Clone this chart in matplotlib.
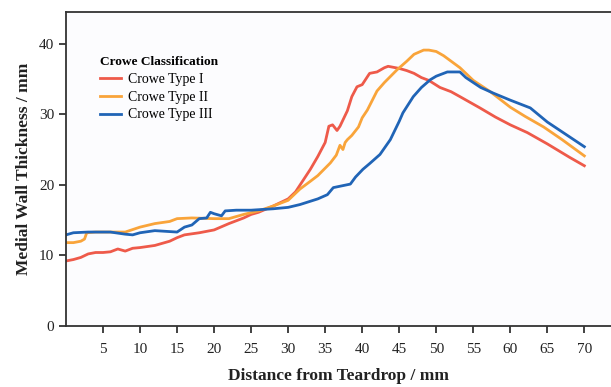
import matplotlib.pyplot as plt

# distance from teardrop (mm) and medial wall thickness (mm)
type1_x = [0, 1, 2, 3, 4, 5, 6, 7, 8, 9, 10, 12, 14, 15, 16, 18, 20, 22, 24, 25, 26, 28, 30, 31,
           32, 33, 34, 35, 35.5, 36, 36.6, 37, 38, 38.6, 39.3, 40, 41, 42, 43, 43.5, 44, 45, 46,
           47, 48, 49, 50.5, 52, 53.2, 55.9, 58, 60, 62.3, 65, 68, 70]
type1_y = [9.2, 9.4, 9.7, 10.2, 10.4, 10.4, 10.5, 10.9, 10.6, 11.0, 11.1, 11.4, 12.0, 12.5,
           12.9, 13.2, 13.6, 14.5, 15.3, 15.8, 16.1, 17.0, 18.0, 19.0, 20.6, 22.2, 24.0, 26.0,
           28.3, 28.5, 27.7, 28.3, 30.5, 32.5, 33.9, 34.2, 35.8, 36.0, 36.6, 36.8, 36.7, 36.5,
           36.2, 35.8, 35.2, 34.8, 33.8, 33.2, 32.5, 30.9, 29.6, 28.5, 27.4, 25.8, 23.9, 22.7]

type2_x = [0, 1, 2, 2.5, 2.8, 4, 6, 8, 10, 12, 14, 15, 17, 20, 22, 24, 26, 28, 30, 31.6, 33,
           34, 35.7, 36.5, 37, 37.4, 37.7, 38, 38.6, 39.5, 40, 40.7, 42, 43, 44.7, 46, 47,
           48.3, 49, 50, 51, 53.2, 55, 57.3, 60, 62, 64.5, 67, 70]
type2_y = [11.8, 11.8, 12.0, 12.3, 13.2, 13.3, 13.3, 13.3, 14.0, 14.5, 14.8, 15.2, 15.3, 15.2,
           15.2, 15.8, 16.3, 17.0, 17.8, 19.4, 20.5, 21.3, 23.1, 24.2, 25.6, 25.0, 26.0, 26.4,
           27.0, 28.2, 29.5, 30.6, 33.3, 34.5, 36.3, 37.5, 38.5, 39.1, 39.1, 38.9, 38.3, 36.6,
           34.8, 33.2, 31.0, 29.7, 28.2, 26.4, 24.1]

type3_x = [0, 1, 3, 6, 8, 9, 10, 12, 15, 16, 17, 18, 19, 19.5, 20, 21, 21.5, 23, 25, 28, 30,
           31.6, 34, 35.3, 36.1, 38.4, 39.1, 40.1, 41, 42.4, 43.8, 45, 45.5, 46.9, 48, 49.2,
           50, 51.5, 53.2, 54, 56, 57.7, 60, 62.7, 65, 67, 70]
type3_y = [12.9, 13.2, 13.3, 13.3, 13.0, 12.9, 13.2, 13.5, 13.3, 14.0, 14.3, 15.2, 15.3, 16.1,
           15.9, 15.6, 16.3, 16.4, 16.4, 16.6, 16.8, 17.2, 18.0, 18.6, 19.6, 20.1, 21.1, 22.2,
           23.0, 24.3, 26.4, 29.0, 30.2, 32.5, 33.8, 34.9, 35.4, 36.0, 36.0, 35.2, 33.8, 33.0,
           32.0, 30.9, 28.9, 27.5, 25.4]

labels = ["Crowe Type I", "Crowe Type II", "Crowe Type III"]
colors = ["#EE5A4A", "#F9A43A", "#2064B6"]

plt.rcParams['font.family'] = ['Liberation Serif', 'DejaVu Serif']

fig = plt.figure(figsize=(6.11, 3.87), dpi=100)
fig.patch.set_facecolor("white")
ax = fig.add_axes([0.108, 0.158, 0.892, 0.811])
ax.set_facecolor("#FCFCFE")

for xs, ys, lab, col in zip([type1_x, type2_x, type3_x], [type1_y, type2_y, type3_y], labels, colors):
    ax.plot(xs, ys, color=col, lw=2.0, label=lab)

ax.set_xlim(0, 73.6)
ax.set_ylim(0, 44.5)
ax.set_xticks(range(5, 71, 5))
ax.set_yticks([0, 10, 20, 30, 40])
ax.tick_params(axis='both', direction='out', length=5, width=1.3, color="#333333",
               labelsize=11, labelcolor="#222222")
ax.tick_params(axis='x', pad=7)
for s in ["left", "bottom", "top"]:
    ax.spines[s].set_color("#333333")
    ax.spines[s].set_linewidth(1.3)
ax.spines["right"].set_visible(False)

ax.set_xlabel("Distance from Teardrop / mm", fontsize=12.5, fontweight="bold", color="#222222", labelpad=9)
ax.set_ylabel("Medial Wall Thickness / mm", fontsize=12.5, fontweight="bold", color="#222222", labelpad=5)

leg = ax.legend(loc="upper left", bbox_to_anchor=(0.04, 0.9), frameon=False, fontsize=10,
                title="Crowe Classification", title_fontproperties={"weight": "bold", "size": 9.6},
                handlelength=1.5, handletextpad=0.5, labelspacing=0.35, alignment="left")

fig.savefig("out.png", dpi=100)
